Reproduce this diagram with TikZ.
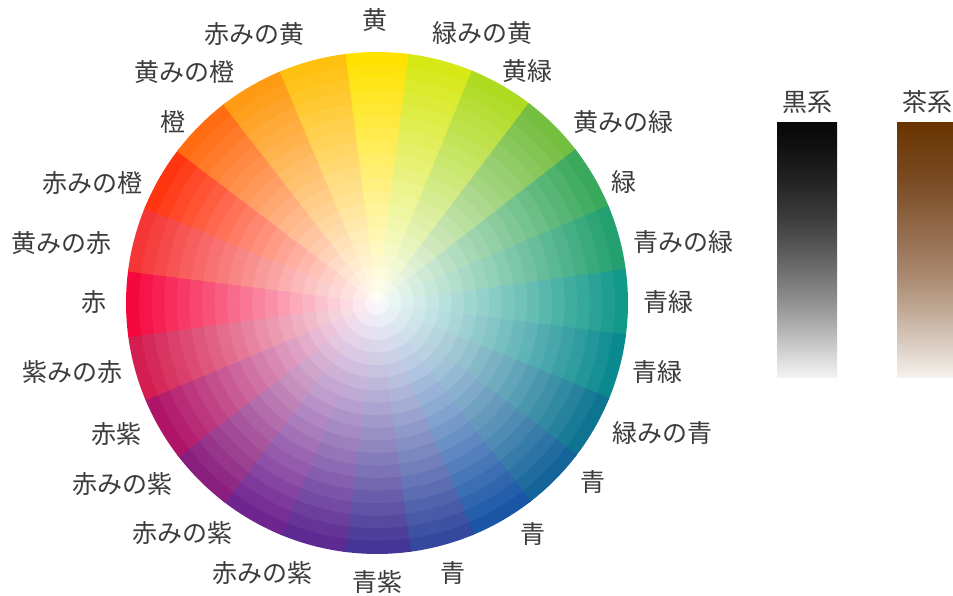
\documentclass[tikz,border=0pt]{standalone}
\usepackage{fontspec}
\setmainfont{Noto Sans CJK JP}
\usepackage{tikz}
\definecolor{lblgray}{HTML}{3C3C3C}
\definecolor{k0}{HTML}{F4F4F4}
\definecolor{k1}{HTML}{CCCCCC}
\definecolor{k2}{HTML}{9C9C9C}
\definecolor{k3}{HTML}{777777}
\definecolor{k4}{HTML}{555555}
\definecolor{k5}{HTML}{383838}
\definecolor{k6}{HTML}{222222}
\definecolor{k7}{HTML}{101010}
\definecolor{k8}{HTML}{080808}
\definecolor{b0}{HTML}{F6F2EE}
\definecolor{b1}{HTML}{DDD0C6}
\definecolor{b2}{HTML}{C2AB98}
\definecolor{b3}{HTML}{AB8B72}
\definecolor{b4}{HTML}{9A7458}
\definecolor{b5}{HTML}{8A5F3C}
\definecolor{b6}{HTML}{7A4A22}
\definecolor{b7}{HTML}{703E10}
\definecolor{b8}{HTML}{683400}
\pgfdeclareverticalshading{kurokei}{100bp}{color(0bp)=(k0); color(25bp)=(k0);
  color(31bp)=(k1); color(38bp)=(k2); color(44.5bp)=(k3); color(51bp)=(k4);
  color(57.5bp)=(k5); color(64bp)=(k6); color(70.5bp)=(k7); color(75bp)=(k8); color(100bp)=(k8)}
\pgfdeclareverticalshading{chakei}{100bp}{color(0bp)=(b0); color(25bp)=(b0);
  color(31bp)=(b1); color(38bp)=(b2); color(44.5bp)=(b3); color(51bp)=(b4);
  color(57.5bp)=(b5); color(64bp)=(b6); color(70.5bp)=(b7); color(75bp)=(b8); color(100bp)=(b8)}

\begin{document}
\begin{tikzpicture}[x=1pt,y=1pt]
\tikzstyle{lbl}=[inner sep=0pt,text=lblgray,font=\fontsize{25}{25}\selectfont]
\useasboundingbox (0,0) rectangle (953,596);
\fill[white] (0,0) rectangle (953,596);
% wheel: 24 hues, white at the centre
\begin{scope}[shift={(377,293)}]
\foreach \ang/\hex in {
	90/FFE200, 75/D6E815, 60/AEDA20, 45/74BE40, 30/3AA95C, 15/24A070,
	0/12998A, -15/0A8A8E, -30/0E7492, -45/14649A, -60/1A55A6, -75/34489E,
	-90/443596, -105/5C2A92, -120/702490, -135/8A1E7E, -150/B01468, -165/D41E52,
	180/F5083E, 165/F53636, 150/FF3510, 135/FF6C12, 120/FF9A12, 105/FFC010}{
	\definecolor{hue}{HTML}{\hex}
	\foreach \k in {1,...,20}{
		\pgfmathsetmacro{\pct}{5*\k}
		\pgfmathsetmacro{\ri}{max((\k-1)*12.55-0.6,0.3)}
		\pgfmathsetmacro{\ro}{\k*12.55}
		\fill[hue!\pct!white] (\ang-7.8:\ri) -- (\ang-7.8:\ro)
			arc[start angle=\ang-7.8,end angle=\ang+7.8,radius=\ro]
			-- (\ang+7.8:\ri) arc[start angle=\ang+7.8,end angle=\ang-7.8,radius=\ri] -- cycle;
	}
}
\end{scope}
% labels round the wheel
\foreach \name/\point/\txt in {
	1/{375,576}/黄,
	2/{482,563}/緑みの黄,
	3/{527,525}/黄緑,
	4/{623,474}/黄みの緑,
	5/{624,414}/緑,
	6/{683,354}/青みの緑,
	7/{668,294}/青緑,
	8/{657,224}/青緑,
	9/{662,163}/緑みの青,
	10/{593,114}/青,
	11/{533,62}/青,
	12/{453,23}/青,
	13/{377,14}/青紫,
	14/{262,23}/赤みの紫,
	15/{182,63}/赤みの紫,
	16/{122,112}/赤みの紫,
	17/{116,162}/赤紫,
	18/{72,224}/紫みの赤,
	19/{94,294}/赤,
	20/{62,353}/黄みの赤,
	21/{92,413}/赤みの橙,
	22/{173,474}/橙,
	23/{184,524}/黄みの橙,
	24/{254,562}/赤みの黄}
	\node[lbl] (\name) at (\point) {\txt};
% black and brown bars
\node[lbl] (kuro) at (807,494) {黒系};
\node[lbl] (cha) at (927,494) {茶系};
\shade[shading=kurokei] (777,218) rectangle (837,473);
\shade[shading=chakei] (897,218) rectangle (953,473);
\end{tikzpicture}
\end{document}
